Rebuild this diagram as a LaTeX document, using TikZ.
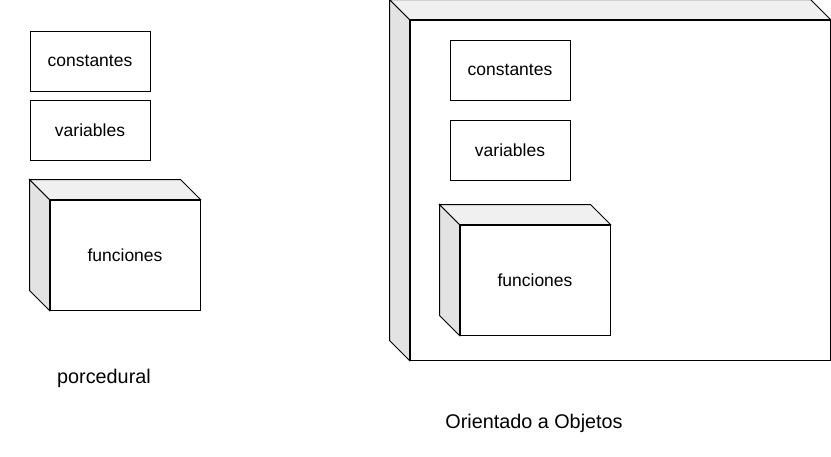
\documentclass[tikz,border=0pt]{standalone}
\usepackage{fontspec}
\setmainfont{Liberation Sans}
\usetikzlibrary{calc}
\tikzset{
	caja/.style={draw,fill=white,line width=1pt,inner sep=0pt,minimum width=120pt,minimum height=60pt,font=\fontsize{17.5}{20}\selectfont},
	lado/.style={draw,fill=black!11,line width=1pt,line join=miter},
	tapa/.style={draw,fill=black!6,line width=1pt,line join=miter},
	rotulo/.style={font=\fontsize{19.8}{23}\selectfont}
}
\newcommand{\cubo}[1]{%
	\draw[lado] (#1.north west) -- ++(-20,-20) -- ($(#1.south west)+(-20,-20)$) -- (#1.south west) -- cycle;
	\draw[tapa] (#1.north west) -- ++(-20,-20) -- ($(#1.north east)+(-20,-20)$) -- (#1.north east) -- cycle;}
\begin{document}
\begin{tikzpicture}[x=1pt,y=-1pt]
		\useasboundingbox (0,0) rectangle (831,456);
		% procedural
		\node[caja] (constA) at (90,61) {constantes};
		\node[caja] (varA) at (90,130) {variables};
		\node[caja,minimum width=150pt,minimum height=110pt] (funcA) at (125,255) {funciones};
		\cubo{funcA}
		\node[rotulo] (proc) at (104,378) {porcedural};
		% orientado a objetos
		\node[caja,minimum width=420pt,minimum height=340pt] (objeto) at (620,190) {};
		\cubo{objeto}
		\node[caja] (constB) at (510,70) {constantes};
		\node[caja] (varB) at (510,150) {variables};
		\node[caja,minimum width=150pt,minimum height=110pt] (funcB) at (535,280) {funciones};
		\cubo{funcB}
		\node[rotulo] (oo) at (534,423) {Orientado a Objetos};
\end{tikzpicture}
\end{document}
